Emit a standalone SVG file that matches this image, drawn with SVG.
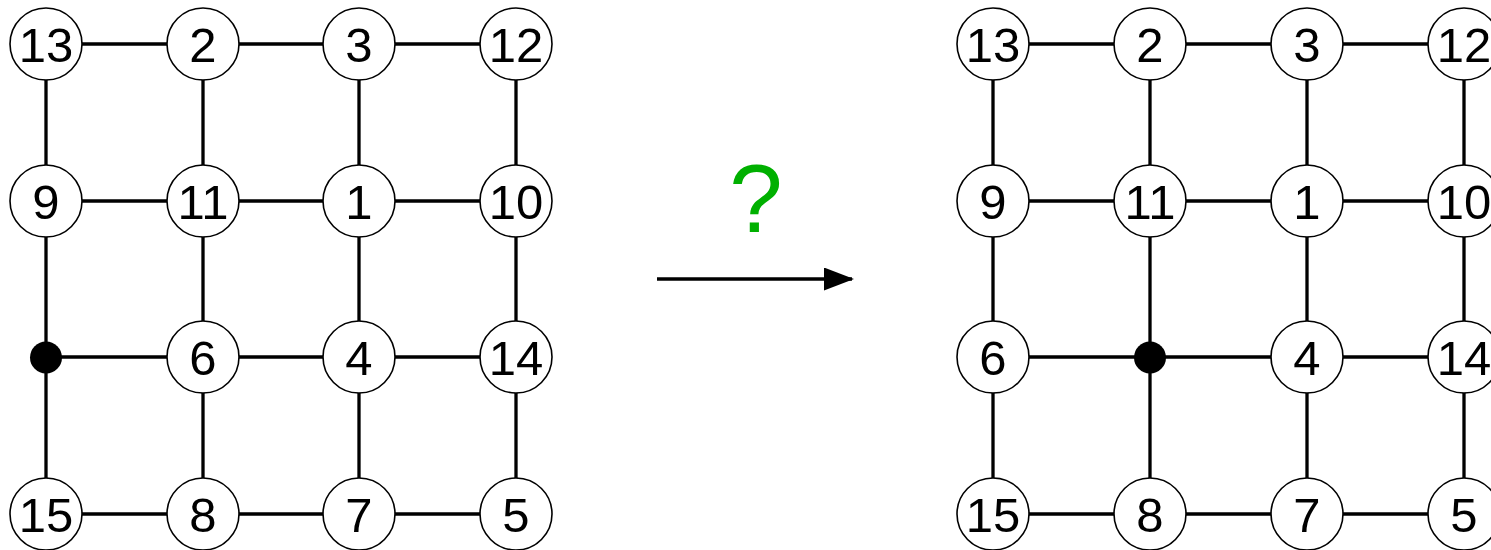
<svg xmlns="http://www.w3.org/2000/svg" width="1491" height="550" viewBox="0 0 1491 550">
  <style>
    .edge { stroke: #000; stroke-width: 3.3; fill: none; }
    .node circle { fill: #fff; stroke: #000; stroke-width: 1.6; }
    .node text { font-family: "Liberation Sans", Arial, sans-serif; font-size: 49px; text-anchor: middle; fill: #000; }
    .dot { fill: #000; }
    .q { font-family: "Liberation Sans", Arial, sans-serif; font-size: 96px; text-anchor: middle; fill: #00b000; }
  </style>
  <defs>
    <marker id="arrowhead" markerWidth="30" markerHeight="24" refX="28" refY="11.5" orient="auto" markerUnits="userSpaceOnUse">
      <path d="M0,0 L30,11.5 L0,23 Z" fill="#000"/>
    </marker>
  </defs>

  <!-- grid edges: left lattice (cols 46,203,359,516) and right lattice (cols 993,1150,1307,1464); rows 44,201,357,514 -->
  <g id="connectors">
    <!-- left horizontals -->
    <path class="edge" d="M46,44 H516 M46,201 H516 M46,357 H516 M46,514 H516"/>
    <!-- left verticals -->
    <path class="edge" d="M46,44 V514 M203,44 V514 M359,44 V514 M516,44 V514"/>
    <!-- right horizontals -->
    <path class="edge" d="M993,44 H1491 M993,201 H1491 M993,357 H1491 M993,514 H1491"/>
    <!-- right verticals -->
    <path class="edge" d="M993,44 V514 M1150,44 V514 M1307,44 V514 M1464,44 V514"/>
    <!-- transition arrow -->
    <line class="edge" x1="657" y1="279" x2="852" y2="279" marker-end="url(#arrowhead)"/>
  </g>

  <text class="q" x="756" y="232">?</text>

  <!-- left lattice nodes -->
  <g id="L13" class="node"><circle cx="46" cy="44" r="36"/><text x="46" y="62">13</text></g>
  <g id="L2" class="node"><circle cx="203" cy="44" r="36"/><text x="203" y="62">2</text></g>
  <g id="L3" class="node"><circle cx="359" cy="44" r="36"/><text x="359" y="62">3</text></g>
  <g id="L12" class="node"><circle cx="516" cy="44" r="36"/><text x="516" y="62">12</text></g>
  <g id="L9" class="node"><circle cx="46" cy="201" r="36"/><text x="46" y="219">9</text></g>
  <g id="L11" class="node"><circle cx="203" cy="201" r="36"/><text x="203" y="219">11</text></g>
  <g id="L1" class="node"><circle cx="359" cy="201" r="36"/><text x="359" y="219">1</text></g>
  <g id="L10" class="node"><circle cx="516" cy="201" r="36"/><text x="516" y="219">10</text></g>
  <g id="Lhole"><circle class="dot" cx="46" cy="357.5" r="16"/></g>
  <g id="L6" class="node"><circle cx="203" cy="357" r="36"/><text x="203" y="375">6</text></g>
  <g id="L4" class="node"><circle cx="359" cy="357" r="36"/><text x="359" y="375">4</text></g>
  <g id="L14" class="node"><circle cx="516" cy="357" r="36"/><text x="516" y="375">14</text></g>
  <g id="L15" class="node"><circle cx="46" cy="514" r="36"/><text x="46" y="532">15</text></g>
  <g id="L8" class="node"><circle cx="203" cy="514" r="36"/><text x="203" y="532">8</text></g>
  <g id="L7" class="node"><circle cx="359" cy="514" r="36"/><text x="359" y="532">7</text></g>
  <g id="L5" class="node"><circle cx="516" cy="514" r="36"/><text x="516" y="532">5</text></g>

  <!-- right lattice nodes -->
  <g id="R13" class="node"><circle cx="993" cy="44" r="36"/><text x="993" y="62">13</text></g>
  <g id="R2" class="node"><circle cx="1150" cy="44" r="36"/><text x="1150" y="62">2</text></g>
  <g id="R3" class="node"><circle cx="1307" cy="44" r="36"/><text x="1307" y="62">3</text></g>
  <g id="R12" class="node"><circle cx="1464" cy="44" r="36"/><text x="1464" y="62">12</text></g>
  <g id="R9" class="node"><circle cx="993" cy="201" r="36"/><text x="993" y="219">9</text></g>
  <g id="R11" class="node"><circle cx="1150" cy="201" r="36"/><text x="1150" y="219">11</text></g>
  <g id="R1" class="node"><circle cx="1307" cy="201" r="36"/><text x="1307" y="219">1</text></g>
  <g id="R10" class="node"><circle cx="1464" cy="201" r="36"/><text x="1464" y="219">10</text></g>
  <g id="R6" class="node"><circle cx="993" cy="357" r="36"/><text x="993" y="375">6</text></g>
  <g id="Rhole"><circle class="dot" cx="1150" cy="357.5" r="16"/></g>
  <g id="R4" class="node"><circle cx="1307" cy="357" r="36"/><text x="1307" y="375">4</text></g>
  <g id="R14" class="node"><circle cx="1464" cy="357" r="36"/><text x="1464" y="375">14</text></g>
  <g id="R15" class="node"><circle cx="993" cy="514" r="36"/><text x="993" y="532">15</text></g>
  <g id="R8" class="node"><circle cx="1150" cy="514" r="36"/><text x="1150" y="532">8</text></g>
  <g id="R7" class="node"><circle cx="1307" cy="514" r="36"/><text x="1307" y="532">7</text></g>
  <g id="R5" class="node"><circle cx="1464" cy="514" r="36"/><text x="1464" y="532">5</text></g>
</svg>
